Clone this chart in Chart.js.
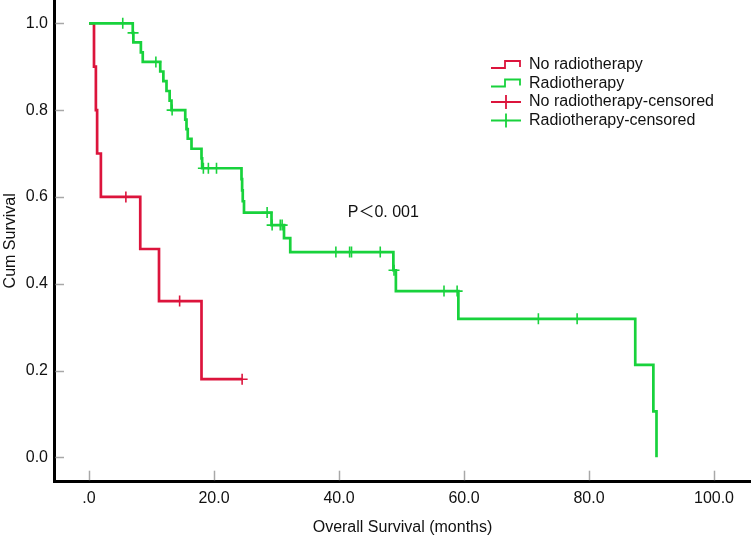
<!DOCTYPE html>
<html><head><meta charset="utf-8">
<script src="https://cdn.jsdelivr.net/npm/chart.js@4.4.1/dist/chart.umd.min.js"></script>
<style>html,body{margin:0;padding:0;background:#fff;}#wrap{width:751px;height:537px;position:relative;}</style>
</head><body><div id="wrap"><canvas id="c"></canvas></div>
<script>
// ---- data ----
const seriesNames = ['No radiotherapy', 'Radiotherapy'];
const legendLabels = ['No radiotherapy', 'Radiotherapy', 'No radiotherapy-censored', 'Radiotherapy-censored'];

const noRadioTimes = [0, 0.8, 1.1, 1.3, 1.9, 8.2, 11.2, 18.0, 24.5];
const noRadioSurv  = [1.0, 0.9, 0.8, 0.7, 0.6, 0.48, 0.36, 0.18, 0.18];
const noRadioCensorTimes = [5.9, 14.5, 24.5];
const noRadioCensorSurv  = [0.6, 0.36, 0.18];

const radioTimes = [0, 7.0, 7.1, 8.3, 8.6, 11.4, 11.9, 12.4, 12.9, 13.2, 15.4, 15.6, 15.8, 16.4, 18.0, 18.1,
                    24.4, 24.5, 24.6, 24.8, 29.2, 31.2, 32.2, 48.7, 49.1, 59.1, 87.4, 90.3, 90.8];
const radioSurv  = [1.0, 0.978, 0.956, 0.933, 0.911, 0.889, 0.867, 0.844, 0.822, 0.800, 0.778, 0.756, 0.734, 0.711, 0.689, 0.666,
                    0.641, 0.615, 0.590, 0.564, 0.535, 0.505, 0.473, 0.431, 0.383, 0.319, 0.213, 0.106, 0.0];
const radioCensorTimes = [5.4, 7.05, 10.7, 13.3, 18.3, 19.1, 20.4, 28.5, 29.3, 30.6, 30.9, 39.5, 41.7, 42.0, 46.6, 48.8, 56.8, 58.9, 71.9, 78.1];
const radioCensorSurv  = [1.0, 0.978, 0.911, 0.800, 0.666, 0.666, 0.666, 0.564, 0.535, 0.535, 0.535, 0.473, 0.473, 0.473, 0.473, 0.431, 0.383, 0.383, 0.319, 0.319];

const xTickValues = [0, 20, 40, 60, 80, 100];
const xTickLabels = ['.0', '20.0', '40.0', '60.0', '80.0', '100.0'];
const yTickValues = [0, 0.2, 0.4, 0.6, 0.8, 1.0];
const yTickLabels = ['0.0', '0.2', '0.4', '0.6', '0.8', '1.0'];
const xTitle = 'Overall Survival (months)';
const yTitle = 'Cum Survival';
const pValueText = 'P\uFF1C0. 001';
const pValueAt = [41.4, 0.563];

// ---- styling ----
const RED = '#DC143C';
const GREEN = '#18D23C';
const FONT = '"Liberation Sans", Arial, "Noto Sans CJK SC", sans-serif';

const zip = (xs, ys) => xs.map((x, i) => ({x: x, y: ys[i]}));

const extras = {
  id: 'extras',
  beforeDatasetsDraw(chart) {
    const ctx = chart.ctx, xs = chart.scales.x, ys = chart.scales.y;
    ctx.save();
    ctx.strokeStyle = '#A8A8A8'; ctx.lineWidth = 1.5;
    xTickValues.forEach(v => {
      const px = Math.round(xs.getPixelForValue(v)) + 0.5;
      ctx.beginPath(); ctx.moveTo(px, xs.top - 1.5); ctx.lineTo(px, xs.top - 11); ctx.stroke();
    });
    yTickValues.forEach(v => {
      const py = Math.round(ys.getPixelForValue(v)) + 0.5;
      ctx.beginPath(); ctx.moveTo(ys.right + 1.5, py); ctx.lineTo(ys.right + 10, py); ctx.stroke();
    });
    ctx.restore();
  },
  afterDraw(chart) {
    const ctx = chart.ctx, xs = chart.scales.x, ys = chart.scales.y;
    ctx.save();
    ctx.font = '16px ' + FONT;
    ctx.fillStyle = '#111';
    ctx.textBaseline = 'middle'; ctx.textAlign = 'left';
    ctx.fillText(pValueText, xs.getPixelForValue(pValueAt[0]), ys.getPixelForValue(pValueAt[1]));
    // legend
    const colors = [RED, GREEN, RED, GREEN];
    const x0 = 491, rowY = [65, 83.5, 102, 120.5];
    legendLabels.forEach((lab, i) => {
      const y = rowY[i];
      ctx.strokeStyle = colors[i]; ctx.lineWidth = 1.8;
      ctx.beginPath();
      if (i < 2) {
        ctx.moveTo(x0, y + 3); ctx.lineTo(x0 + 14, y + 3); ctx.lineTo(x0 + 14, y - 4);
        ctx.lineTo(x0 + 29, y - 4); ctx.lineTo(x0 + 29, y + 2);
      } else {
        ctx.moveTo(x0, y); ctx.lineTo(x0 + 30, y);
        ctx.moveTo(x0 + 15, y - 7); ctx.lineTo(x0 + 15, y + 7);
      }
      ctx.stroke();
      ctx.fillStyle = '#111';
      ctx.fillText(lab, x0 + 38, y);
    });
    ctx.restore();
  }
};

Chart.defaults.font.family = FONT;
Chart.defaults.font.size = 16;
Chart.defaults.color = '#111';

new Chart(document.getElementById('c'), {
  type: 'line',
  data: {
    datasets: [
      {label: seriesNames[1], data: zip(radioTimes, radioSurv), stepped: 'before', borderColor: GREEN, borderWidth: 2.7, pointRadius: 0, fill: false, order: 1},
      {label: seriesNames[0], data: zip(noRadioTimes, noRadioSurv), stepped: 'before', borderColor: RED, borderWidth: 2.7, pointRadius: 0, fill: false, order: 2},
      {label: legendLabels[3], data: zip(radioCensorTimes, radioCensorSurv), showLine: false, pointStyle: 'cross', pointRadius: 5.5, pointBorderWidth: 1.6, borderColor: GREEN, pointBorderColor: GREEN, order: 0},
      {label: legendLabels[2], data: zip(noRadioCensorTimes, noRadioCensorSurv), showLine: false, pointStyle: 'cross', pointRadius: 5.5, pointBorderWidth: 1.6, borderColor: RED, pointBorderColor: RED, order: 0}
    ]
  },
  options: {
    responsive: true,
    maintainAspectRatio: false,
    animation: false,
    events: [],
    layout: {padding: 0, autoPadding: false},
    plugins: {legend: {display: false}, tooltip: {enabled: false}},
    scales: {
      x: {
        type: 'linear', min: -5.6, max: 105.92,
        grid: {display: false, drawTicks: false},
        border: {display: true, color: '#000', width: 3},
        afterBuildTicks: s => { s.ticks = xTickValues.map(v => ({value: v})); },
        afterFit: s => { s.height = 55.3; s.paddingLeft = 0; s.paddingRight = 0; },
        ticks: {padding: 7, color: '#111', font: {size: 16}, maxRotation: 0,
                callback: v => xTickLabels[xTickValues.indexOf(v)]},
        title: {display: true, text: xTitle, color: '#111', font: {size: 16}, padding: {top: 0, bottom: 0}}
      },
      y: {
        type: 'linear', min: -0.0562, max: 1.0537,
        grid: {display: false, drawTicks: false},
        border: {display: true, color: '#000', width: 3},
        afterBuildTicks: s => { s.ticks = yTickValues.map(v => ({value: v})); },
        afterFit: s => { s.width = 54; s.paddingTop = 0; s.paddingBottom = 0; },
        ticks: {padding: 6, color: '#111', font: {size: 16},
                callback: v => yTickLabels[yTickValues.findIndex(t => Math.abs(t - v) < 1e-9)]},
        title: {display: true, text: yTitle, color: '#111', font: {size: 16}, padding: {top: 1, bottom: 0}}
      }
    }
  },
  plugins: [extras]
});
</script></body></html>
